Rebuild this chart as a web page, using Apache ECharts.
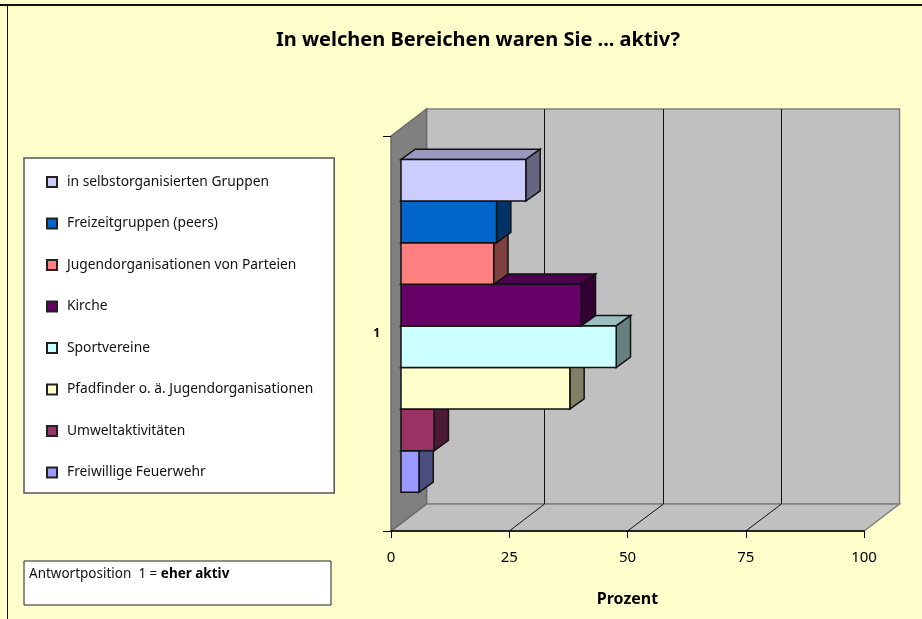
<!DOCTYPE html>
<html><head><meta charset="utf-8">
<style>html,body{margin:0;padding:0;background:#FFFFCC}#c{width:922px;height:619px}</style>
<script src="https://cdn.jsdelivr.net/npm/echarts@6/dist/echarts.min.js"></script>
</head><body><div id="c"></div>
<script>
var titleText = 'In welchen Bereichen waren Sie ... aktiv?';
var categories = ['1'];
var seriesNames = ['in selbstorganisierten Gruppen','Freizeitgruppen (peers)','Jugendorganisationen von Parteien','Kirche','Sportvereine','Pfadfinder o. ä. Jugendorganisationen','Umweltaktivitäten','Freiwillige Feuerwehr'];
var seriesValues = [26.4,20.2,19.6,38.1,45.5,35.7,7.0,3.8];
var seriesColors = ['#CCCCFF','#0066CC','#FF8080','#660066','#CCFFFF','#FFFFCC','#993366','#9999FF'];
var axisTicks = [0,25,50,75,100];
var FONT = '"Noto Sans", sans-serif';

// 3D projection offsets (pixels)
var WALL_DX = 35.5, WALL_DY = 27;
var BAR_OFF_X = 10, BAR_OFF_Y = 7.6, BAR_DX = 14.3, BAR_DY = 10.3;
var BAR_RATIO = 41.6 / 395;

function shade(hex, f) {
  var n = parseInt(hex.slice(1), 16);
  var r = Math.round((n >> 16 & 255) * f), g = Math.round((n >> 8 & 255) * f), b = Math.round((n & 255) * f);
  return 'rgb(' + r + ',' + g + ',' + b + ')';
}
function poly(points, fill, stroke, lw) {
  return {type: 'polygon', shape: {points: points}, style: {fill: fill, stroke: stroke, lineWidth: lw}};
}
function seg(x1, y1, x2, y2, stroke, lw) {
  return {type: 'line', shape: {x1: x1, y1: y1, x2: x2, y2: y2}, style: {stroke: stroke, lineWidth: lw}};
}

function renderBackdrop(params, api) {
  var v = api.value(0);
  var p = api.coord([v, 0]);
  var band = api.size([0, 1])[1];
  var x = p[0], top = p[1] - band / 2, bot = p[1] + band / 2;
  var x0 = api.coord([axisTicks[0], 0])[0], x1 = api.coord([axisTicks[axisTicks.length - 1], 0])[0];
  var ch = [];
  if (params.dataIndex === 0) {
    ch.push(poly([[x0 + WALL_DX, top - WALL_DY], [x1 + WALL_DX, top - WALL_DY], [x1 + WALL_DX, bot - WALL_DY], [x0 + WALL_DX, bot - WALL_DY]], '#C0C0C0', '#808080', 1.5));
    ch.push(poly([[x0, bot], [x1, bot], [x1 + WALL_DX, bot - WALL_DY], [x0 + WALL_DX, bot - WALL_DY]], '#C0C0C0', '#808080', 1.5));
    ch.push(poly([[x0, top], [x0 + WALL_DX, top - WALL_DY], [x0 + WALL_DX, bot - WALL_DY], [x0, bot]], '#808080', '#6a6a6a', 1.5));
  }
  if (params.dataIndex > 0 && params.dataIndex < axisTicks.length - 1) {
    var bx = Math.floor(x + WALL_DX) + 0.5;
    ch.push(seg(bx, top - WALL_DY, bx, bot - WALL_DY, '#111', 1));
    ch.push(seg(x, bot, bx, bot - WALL_DY, '#111', 1));
  }
  return {type: 'group', children: ch};
}

function renderBar(i) {
  return function (params, api) {
    var n = seriesValues.length;
    var c0 = api.coord([0, 0]);
    var c1 = api.coord([api.value(0), 0]);
    var band = api.size([0, 1])[1];
    var h = band * BAR_RATIO;
    var xa = c0[0] + BAR_OFF_X, xb = c1[0] + BAR_OFF_X;
    var ya = c0[1] - BAR_OFF_Y + (i - n / 2) * h, yb = ya + h;
    var col = seriesColors[i], edge = '#111';
    return {type: 'group', children: [
      poly([[xa, ya], [xb, ya], [xb + BAR_DX, ya - BAR_DY], [xa + BAR_DX, ya - BAR_DY]], shade(col, 0.75), edge, 1.5),
      poly([[xb, ya], [xb + BAR_DX, ya - BAR_DY], [xb + BAR_DX, yb - BAR_DY], [xb, yb]], shade(col, 0.5), edge, 1.5),
      poly([[xa, ya], [xb, ya], [xb, yb], [xa, yb]], col, edge, 1.5)
    ]};
  };
}

var series = [{
  type: 'custom', name: 'backdrop', z: 1, silent: true, clip: false,
  renderItem: renderBackdrop,
  data: axisTicks.map(function (t) { return [t, 0]; }),
  encode: {x: 0, y: 1}
}];
seriesNames.forEach(function (name, i) {
  series.push({
    type: 'custom', name: name, z: 20 + seriesNames.length - i, clip: false,
    renderItem: renderBar(i),
    itemStyle: {color: seriesColors[i], borderColor: '#222', borderWidth: 1},
    data: [[seriesValues[i], 0]],
    encode: {x: 0, y: 1}
  });
});

var chart = echarts.init(document.getElementById('c'), null, {renderer: 'canvas'});
chart.setOption({
  animation: false,
  backgroundColor: '#FFFFCC',
  textStyle: {fontFamily: FONT},
  title: {text: titleText, left: 473, textAlign: 'center', top: 25,
    textStyle: {fontFamily: FONT, fontSize: 20, fontWeight: 'bold', color: '#000'}},
  grid: {left: 391, right: 58, top: 136, bottom: 88},
  xAxis: {type: 'value', min: 0, max: 100, interval: 25, z: 10,
    name: 'Prozent', nameLocation: 'middle', nameGap: 60,
    nameTextStyle: {fontFamily: FONT, fontSize: 16, fontWeight: 'bold', color: '#000'},
    axisLine: {show: true, lineStyle: {color: '#000', width: 1.5}},
    axisTick: {show: true, length: 7, lineStyle: {color: '#000', width: 1}},
    axisLabel: {color: '#000', fontSize: 15, margin: 19, fontFamily: FONT},
    splitLine: {show: false}},
  yAxis: {type: 'category', data: categories, z: 10,
    axisLine: {show: false},
    axisTick: {show: true, length: 8, lineStyle: {color: '#000', width: 1}},
    axisLabel: {color: '#000', fontSize: 12, margin: 11, fontWeight: 'bold', fontFamily: FONT, padding: [6, 0, 0, 0]}},
  legend: {show: true, orient: 'vertical', left: 24, top: 158, data: seriesNames,
    backgroundColor: '#FFFFFF', borderColor: '#555', borderWidth: 1.5,
    padding: [15, 21, 11.5, 22], itemWidth: 10, itemHeight: 10, itemGap: 23.5, icon: 'rect',
    textStyle: {fontFamily: FONT, fontSize: 13.8, color: '#111', lineHeight: 18, padding: [0, 0, 0, 5]}, selectedMode: false},
  graphic: [
    {type: 'rect', shape: {x: 24, y: 561, width: 307, height: 44}, style: {fill: '#fff', stroke: '#222', lineWidth: 1}, z: 5},
    {type: 'text', x: 29, y: 567, z: 6, style: {
      text: '{a|Antwortposition  1 = }{b|eher aktiv}',
      rich: {a: {fontFamily: FONT, fontSize: 13.5, fill: '#111'}, b: {fontFamily: FONT, fontSize: 13.5, fontWeight: 'bold', fill: '#000'}}}},
    {type: 'line', shape: {x1: 0, y1: 5, x2: 922, y2: 5}, style: {stroke: '#111', lineWidth: 2}, z: 5},
    {type: 'line', shape: {x1: 7.5, y1: 5, x2: 7.5, y2: 619}, style: {stroke: '#111', lineWidth: 1}, z: 5}
  ],
  series: series
});
</script></body></html>
